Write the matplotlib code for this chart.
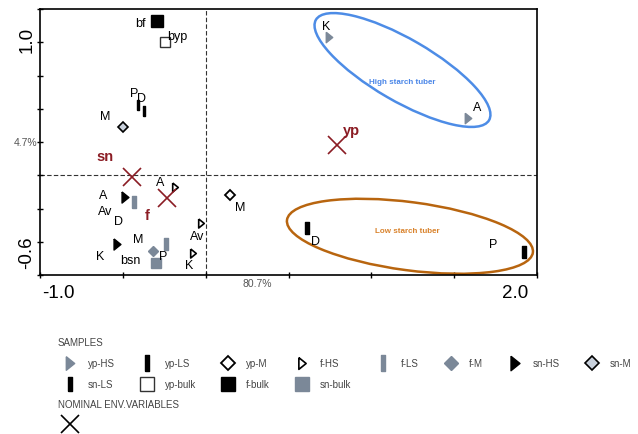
import matplotlib
matplotlib.use("Agg")
import matplotlib.pyplot as plt
from matplotlib.patches import Ellipse

plt.rcParams["font.family"] = ["Liberation Sans", "DejaVu Sans"]

# ordination scores (axis 1 = 80.7 %, axis 2 = 4.7 %)
yp_hs_x = [0.744, 1.583]
yp_hs_y = [0.831, 0.343]
yp_hs_lab = ["K", "A"]

yp_ls_x = [0.611, 1.921]
yp_ls_y = [-0.319, -0.464]
yp_ls_lab = ["D", "P"]

yp_m_x = [0.147]
yp_m_y = [-0.120]
yp_m_lab = ["M"]

f_hs_x = [-0.185, -0.028, -0.077]
f_hs_y = [-0.072, -0.289, -0.470]
f_hs_lab = ["A", "Av", "K"]

f_ls_x = [-0.433, -0.240]
f_ls_y = [-0.163, -0.416]
f_ls_lab = ["Av", "P"]

f_m_x = [-0.318]
f_m_y = [-0.458]
f_m_lab = ["M"]

sn_hs_x = [-0.487, -0.535]
sn_hs_y = [-0.133, -0.416]
sn_hs_lab = ["A", "K"]

sn_m_x = [-0.499]
sn_m_y = [0.289]
sn_m_lab = ["M"]

sn_ls_x = [-0.409, -0.373]
sn_ls_y = [0.422, 0.386]
sn_ls_lab = ["P", "D"]

yp_bulk_x = [-0.246]
yp_bulk_y = [0.801]
yp_bulk_lab = ["byp"]

f_bulk_x = [-0.294]
f_bulk_y = [0.928]
f_bulk_lab = ["bf"]

sn_bulk_x = [-0.300]
sn_bulk_y = [-0.530]
sn_bulk_lab = ["bsn"]

# label without a visible marker
extra_lab = ["D"]
extra_x = [-0.529]
extra_y = [-0.283]

# nominal environmental variables (centroids)
env_lab = ["sn", "f", "yp"]
env_x = [-0.445, -0.234, 0.792]
env_y = [-0.012, -0.139, 0.181]

x_range = (-1.0, 2.0)
y_range = (-0.6, 1.0)

# ---- styles ----
GRAY = "#7b8898"
TRI = [(-0.62, 1.0), (0.62, 0.0), (-0.62, -1.0), (-0.62, 1.0)]
RECT_W = [(-0.3, -1), (0.3, -1), (0.3, 1), (-0.3, 1), (-0.3, -1)]
RECT_N = [(-0.25, -1), (0.25, -1), (0.25, 1), (-0.25, 1), (-0.25, -1)]

groups = [
    ("yp-HS", yp_hs_x, yp_hs_y, yp_hs_lab,
     dict(marker=TRI, mfc=GRAY, mec=GRAY, ms=7.5), [(-3, 10), (9, 10)]),
    ("yp-LS", yp_ls_x, yp_ls_y, yp_ls_lab,
     dict(marker=RECT_W, mfc="black", mec="black", ms=8.5), [(9, -14), (-31, 7)]),
    ("yp-M", yp_m_x, yp_m_y, yp_m_lab,
     dict(marker="D", mfc="white", mec="black", ms=5.5, mew=1.3), [(10, -13)]),
    ("f-HS", f_hs_x, f_hs_y, f_hs_lab,
     dict(marker=TRI, mfc="white", mec="black", ms=6.5, mew=1.2),
     [(-15, 4), (-4, -14), (-4, -13)]),
    ("f-LS", f_ls_x, f_ls_y, f_ls_lab,
     dict(marker=RECT_W, mfc=GRAY, mec=GRAY, ms=8.5), [(-29, -10), (-3, -13)]),
    ("f-M", f_m_x, f_m_y, f_m_lab,
     dict(marker="D", mfc=GRAY, mec=GRAY, ms=5.5), [(-15, 11)]),
    ("sn-HS", sn_hs_x, sn_hs_y, sn_hs_lab,
     dict(marker=TRI, mfc="black", mec="black", ms=8), [(-22, 1), (-17, -13)]),
    ("sn-M", sn_m_x, sn_m_y, sn_m_lab,
     dict(marker="D", mfc="#c9d1dc", mec="black", ms=5.5, mew=1.2), [(-18, 10)]),
    ("sn-LS", sn_ls_x, sn_ls_y, sn_ls_lab,
     dict(marker=RECT_N, mfc="black", mec="black", ms=7.5), [(-4, 11), (-2, 12)]),
    ("yp-bulk", yp_bulk_x, yp_bulk_y, yp_bulk_lab,
     dict(marker="s", mfc="white", mec="#333333", ms=7.5, mew=1.0), [(12, 5)]),
    ("f-bulk", f_bulk_x, f_bulk_y, f_bulk_lab,
     dict(marker="s", mfc="black", mec="black", ms=8), [(-17, -3)]),
    ("sn-bulk", sn_bulk_x, sn_bulk_y, sn_bulk_lab,
     dict(marker="s", mfc=GRAY, mec=GRAY, ms=7.5), [(-26, 2)]),
]
env_offsets = [(-27, 20), (-20, -18), (15, 14)]
DARK_RED = "#8b1c24"

fig = plt.figure(figsize=(6.38, 4.34), dpi=100)
ax = fig.add_axes([40 / 638, 1 - 275 / 434, 497 / 638, 266 / 434])
ax.set_xlim(*x_range)
ax.set_ylim(*y_range)

ax.axhline(0, color="#333333", lw=0.8, ls=(0, (4, 2)), zorder=1)
ax.axvline(0, color="#333333", lw=0.8, ls=(0, (4, 2)), zorder=1)

handles = {}
for name, xs, ys, labs, st, offs in groups:
    (ln,) = ax.plot(xs, ys, ls="none", label=name, zorder=3, **st)
    handles[name] = ln
    for x, y, t, (dx, dy) in zip(xs, ys, labs, offs):
        ax.annotate(t, (x, y), xytext=(dx, dy), textcoords="offset pixels",
                    ha="center", va="center", fontsize=9, color="black", zorder=4)

for x, y, t in zip(extra_x, extra_y, extra_lab):
    ax.text(x, y, t, ha="center", va="center", fontsize=9, color="black")

(env_ln,) = ax.plot(env_x, env_y, ls="none", marker="x", ms=13, mew=1.2,
                    color=DARK_RED, zorder=5)
for x, y, t, (dx, dy) in zip(env_x, env_y, env_lab, env_offsets):
    ax.annotate(t, (x, y), xytext=(dx, dy), textcoords="offset pixels",
                ha="center", va="center", fontsize=10.5, fontweight="bold",
                color=DARK_RED)

ax.add_patch(Ellipse((1.188, 0.633), width=1.207, height=0.374, angle=-30,
                     fill=False, ec="#4d8ce6", lw=1.8, zorder=2))
ax.text(1.188, 0.56, "High starch tuber", ha="center", va="center",
        fontsize=5.8, fontweight="bold", color="#4a86e8")
ax.add_patch(Ellipse((1.233, -0.367), width=1.497, height=0.41, angle=-7.5,
                     fill=False, ec="#b8650f", lw=1.8, zorder=2))
ax.text(1.215, -0.34, "Low starch tuber", ha="center", va="center",
        fontsize=5.8, fontweight="bold", color="#d9822b")

# axes, ticks and end labels in the ordination style
ax.set_xticks([-1.0, -0.5, 0.0, 0.5, 1.0, 1.5, 2.0])
ax.set_yticks([-0.6, -0.4, -0.2, 0.0, 0.2, 0.4, 0.6, 0.8, 1.0])
ax.set_xticklabels([])
ax.set_yticklabels([])
ax.tick_params(direction="inout", length=5, width=1, color="black")
for sp in ax.spines.values():
    sp.set_linewidth(1.2)
    sp.set_color("black")

ax.text(0.036, -0.068, "-1.0", transform=ax.transAxes, ha="center", va="center",
        fontsize=13.5)
ax.text(0.956, -0.068, "2.0", transform=ax.transAxes, ha="center", va="center",
        fontsize=13.5)
ax.text(-0.026, 0.883, "1.0", transform=ax.transAxes, ha="center", va="center",
        fontsize=13.5, rotation=90)
ax.text(-0.026, 0.083, "-0.6", transform=ax.transAxes, ha="center", va="center",
        fontsize=13.5, rotation=90)
ax.text(-0.006, 0.496, "4.7%", transform=ax.transAxes, ha="right", va="center",
        fontsize=7.5, color="#555555")
ax.text(0.437, -0.035, "80.7%", transform=ax.transAxes, ha="center", va="center",
        fontsize=7.5, color="#555555")

# legend, filled column-wise so the rows read like the reference
order = ["yp-HS", "sn-LS", "yp-LS", "yp-bulk", "yp-M", "f-bulk", "f-HS", "sn-bulk",
         "f-LS", "f-M", "sn-HS", "sn-M"]
leg = fig.legend([handles[n] for n in order], order, ncol=8, loc="upper left",
                 bbox_to_anchor=(58 / 638, 1 - 338 / 434), frameon=False,
                 fontsize=7, title="SAMPLES", title_fontsize=7, alignment="left",
                 borderpad=0, borderaxespad=0, handlelength=2.4, handletextpad=0.64,
                 columnspacing=2.1, labelspacing=1.12, markerscale=1.3)
for t in leg.get_texts():
    t.set_color("#444444")
leg.get_title().set_color("#444444")

leg2 = fig.legend([env_ln], [""], loc="upper left",
                  bbox_to_anchor=(58 / 638, 1 - 400 / 434), frameon=False,
                  fontsize=7, title="NOMINAL ENV.VARIABLES", title_fontsize=7,
                  alignment="left", borderpad=0, borderaxespad=0, handlelength=2.4,
                  labelspacing=1.0)
leg2.get_title().set_color("#444444")
for h in leg2.legend_handles:
    h.set_color("black")

fig.savefig("out.png", dpi=100)
